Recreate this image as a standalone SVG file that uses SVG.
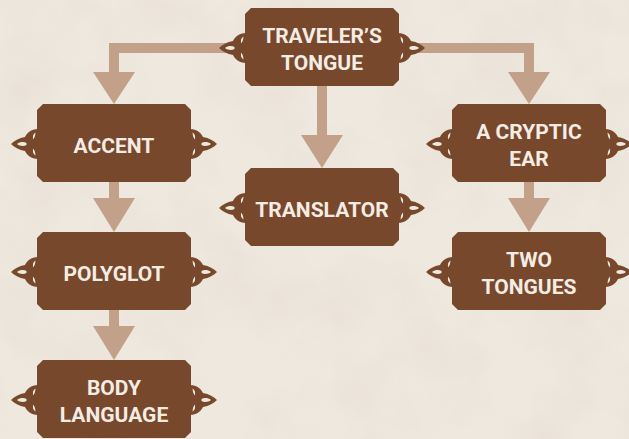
<svg xmlns="http://www.w3.org/2000/svg" xmlns:xlink="http://www.w3.org/1999/xlink" width="629" height="439" viewBox="0 0 629 439">
<style>
.box{fill:#77482c}
.lbl{font-family:Roboto,"Liberation Sans",sans-serif;font-weight:bold;font-size:21px;fill:#f5ede3;text-anchor:middle}
.shaft{fill:none;stroke:#c2a08a;stroke-width:10;stroke-linejoin:miter}
.head{fill:#c2a08a}
.knot{fill:#77482c}
.hole{fill:#efe8df}
</style>
<defs>
<filter id="paper" x="0" y="0" width="100%" height="100%">
<feTurbulence type="fractalNoise" baseFrequency="0.015" numOctaves="4" seed="3"/>
<feColorMatrix type="matrix" values="0 0 0 0 0.55  0 0 0 0 0.45  0 0 0 0 0.35  0 0 0 0.9 -0.35"/>
</filter>
<g id="deco">
<path class="knot" d="M1,-15 C-6,-15 -10,-11 -12,-7 C-18,-6 -23,-3 -26,0 C-23,3 -18,6 -12,7 C-10,11 -6,15 1,15 Z"/>
<path class="hole" d="M-20,0 C-17,-2.4 -13,-2.4 -10.5,-1 L-10.5,1 C-13,2.4 -17,2.4 -20,0 Z"/>
<path class="hole" d="M-1.5,-11.5 Q-5.5,-8.5 -3.5,-4.5 Q-1.5,-8 -1.5,-11.5 Z"/>
<path class="hole" d="M-1.5,11.5 Q-5.5,8.5 -3.5,4.5 Q-1.5,8 -1.5,11.5 Z"/>
</g>
</defs>
<rect width="629" height="439" fill="#efe8df"/>
<rect width="629" height="439" filter="url(#paper)" opacity="0.25"/>

<g id="connectors">
<path class="shaft" d="M228,48 H114 V74"/>
<polygon class="head" points="93,72 135,72 114,104"/>
<path class="shaft" d="M416,48 H529 V74"/>
<polygon class="head" points="508,72 550,72 529,104"/>
<path class="shaft" d="M322,86 V137"/>
<polygon class="head" points="301,135 343,135 322,168"/>
<path class="shaft" d="M114,182 V200"/>
<polygon class="head" points="93,198 135,198 114,232"/>
<path class="shaft" d="M114,310 V328"/>
<polygon class="head" points="93,326 135,326 114,360"/>
<path class="shaft" d="M529,182 V200"/>
<polygon class="head" points="508,198 550,198 529,232"/>
</g>

<g id="travelers-tongue">
<polygon class="box" points="251,8 393,8 399,14 399,80 393,86 251,86 245,80 245,14"/>
<use xlink:href="#deco" transform="translate(245,48)"/>
<use xlink:href="#deco" transform="translate(399,48) scale(-1,1)"/>
<text class="lbl" x="322" y="43">TRAVELER’S</text>
<text class="lbl" x="322" y="70">TONGUE</text>
</g>

<g id="translator">
<polygon class="box" points="251,168 393,168 399,174 399,240 393,246 251,246 245,240 245,174"/>
<use xlink:href="#deco" transform="translate(245,208)"/>
<use xlink:href="#deco" transform="translate(399,208) scale(-1,1)"/>
<text class="lbl" x="322" y="217">TRANSLATOR</text>
</g>

<g id="accent">
<polygon class="box" points="43,104 185,104 191,110 191,176 185,182 43,182 37,176 37,110"/>
<use xlink:href="#deco" transform="translate(37,144)"/>
<use xlink:href="#deco" transform="translate(191,144) scale(-1,1)"/>
<text class="lbl" x="114" y="153">ACCENT</text>
</g>

<g id="polyglot">
<polygon class="box" points="43,232 185,232 191,238 191,304 185,310 43,310 37,304 37,238"/>
<use xlink:href="#deco" transform="translate(37,272)"/>
<use xlink:href="#deco" transform="translate(191,272) scale(-1,1)"/>
<text class="lbl" x="114" y="281">POLYGLOT</text>
</g>

<g id="body-language">
<polygon class="box" points="43,360 185,360 191,366 191,432 185,438 43,438 37,432 37,366"/>
<use xlink:href="#deco" transform="translate(37,400)"/>
<use xlink:href="#deco" transform="translate(191,400) scale(-1,1)"/>
<text class="lbl" x="114" y="395">BODY</text>
<text class="lbl" x="114" y="422">LANGUAGE</text>
</g>

<g id="a-cryptic-ear">
<polygon class="box" points="458,104 600,104 606,110 606,176 600,182 458,182 452,176 452,110"/>
<use xlink:href="#deco" transform="translate(452,144)"/>
<use xlink:href="#deco" transform="translate(606,144) scale(-1,1)"/>
<text class="lbl" x="529" y="139">A CRYPTIC</text>
<text class="lbl" x="529" y="166">EAR</text>
</g>

<g id="two-tongues">
<polygon class="box" points="458,232 600,232 606,238 606,304 600,310 458,310 452,304 452,238"/>
<use xlink:href="#deco" transform="translate(452,272)"/>
<use xlink:href="#deco" transform="translate(606,272) scale(-1,1)"/>
<text class="lbl" x="529" y="267">TWO</text>
<text class="lbl" x="529" y="294">TONGUES</text>
</g>
</svg>
